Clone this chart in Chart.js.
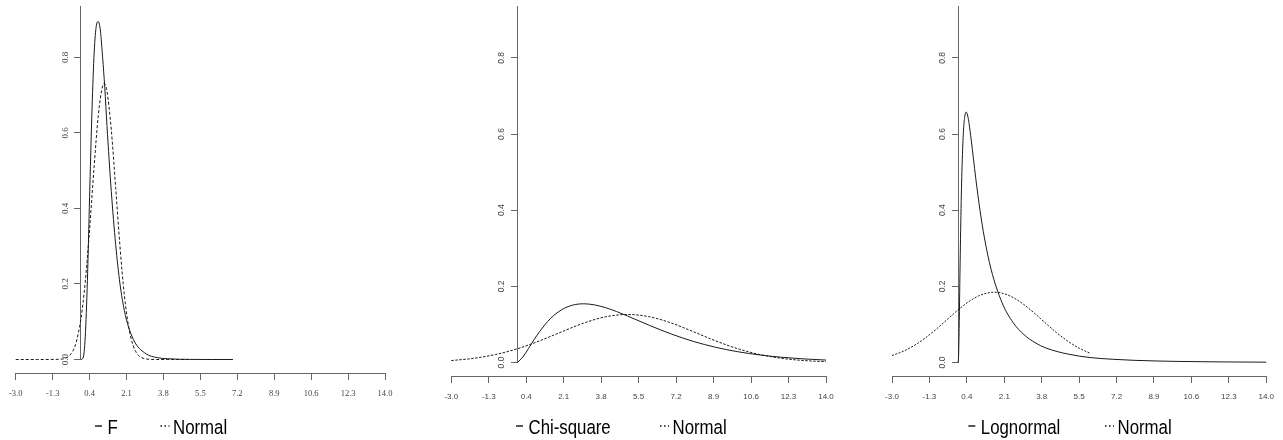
<!DOCTYPE html>
<html><head><meta charset="utf-8">
<script src="https://cdn.jsdelivr.net/npm/chart.js@4/dist/chart.umd.min.js"></script>
<style>
html,body{margin:0;padding:0;background:#fff;overflow:hidden}
#wrap{position:relative;width:1283px;height:440px;background:#fff}
.p{position:absolute;top:0;height:440px}
</style></head><body>
<div id="wrap">
<div class="p" style="left:0;width:427px"><canvas id="c1" width="427" height="440"></canvas></div>
<div class="p" style="left:427px;width:427px"><canvas id="c2" width="427" height="440"></canvas></div>
<div class="p" style="left:854px;width:429px"><canvas id="c3" width="429" height="440"></canvas></div>
</div>
<script>
// ---- tick labels ----
const xTicks = [-3.0, -1.3, 0.4, 2.1, 3.8, 5.5, 7.2, 8.9, 10.6, 12.3, 14.0];
const xTickLabels = ['-3.0', '-1.3', '0.4', '2.1', '3.8', '5.5', '7.2', '8.9', '10.6', '12.3', '14.0'];
const yTicks = [0.0, 0.2, 0.4, 0.6, 0.8];
const yTickLabels = ['0.0', '0.2', '0.4', '0.6', '0.8'];

// ---- panel 1: F vs Normal ----
const fX = [0, 0.1, 0.2, 0.3, 0.4, 0.5, 0.6, 0.7, 0.8, 0.9, 1.0, 1.1, 1.2, 1.4, 1.6, 1.8, 2.0, 2.2, 2.5, 3.0, 3.5, 4.0, 5.0, 6.0, 7.0];
const fY = [0, 0.004, 0.06, 0.21, 0.43, 0.64, 0.80, 0.88, 0.895, 0.87, 0.80, 0.72, 0.62, 0.445, 0.305, 0.20, 0.13, 0.085, 0.044, 0.015, 0.005, 0.002, 0.0003, 0, 0];
const n1X = [-3, -2, -1, -0.5, -0.25, 0, 0.1, 0.2, 0.4, 0.6, 0.8, 1.0, 1.07, 1.2, 1.4, 1.6, 1.8, 2.0, 2.2, 2.4, 2.6, 2.8, 3.0, 3.5, 4.0, 5.1];
const n1Y = [0, 0, 0.0006, 0.012, 0.039, 0.107, 0.151, 0.205, 0.344, 0.504, 0.646, 0.725, 0.731, 0.710, 0.608, 0.456, 0.299, 0.171, 0.086, 0.038, 0.014, 0.005, 0.0014, 0, 0, 0];

// ---- panel 2: Chi-square vs Normal ----
const cX = [0, 0.25, 0.5, 0.75, 1, 1.5, 2, 2.5, 3, 3.5, 4, 4.5, 5, 6, 7, 8, 9, 10, 11, 12, 13, 14];
const cY = [0, 0.0147, 0.0366, 0.0594, 0.0807, 0.1154, 0.1384, 0.1506, 0.1542, 0.1513, 0.1440, 0.1338, 0.1220, 0.0973, 0.0744, 0.0551, 0.0399, 0.0283, 0.0198, 0.0137, 0.0094, 0.0064];
const n2X = [-3, -2, -1, 0, 1, 2, 3, 4, 5, 6, 7, 8, 9, 10, 11, 12, 13, 14];
const n2Y = [0.0051, 0.0109, 0.0209, 0.0361, 0.0567, 0.0804, 0.1033, 0.1200, 0.1262, 0.1200, 0.1033, 0.0804, 0.0567, 0.0361, 0.0209, 0.0109, 0.0051, 0.0022];

// ---- panel 3: Lognormal vs Normal ----
const lX = [0, 0.025, 0.05, 0.1, 0.15, 0.2, 0.25, 0.3, 0.37, 0.45, 0.5, 0.6, 0.7, 0.8, 1, 1.2, 1.5, 2, 2.5, 3, 3.5, 4, 5, 6, 7, 8, 9, 10, 12, 14];
const lY = [0, 0.018, 0.089, 0.282, 0.440, 0.546, 0.611, 0.644, 0.658, 0.645, 0.628, 0.584, 0.535, 0.486, 0.399, 0.327, 0.245, 0.157, 0.105, 0.073, 0.052, 0.038, 0.022, 0.013, 0.0086, 0.0057, 0.004, 0.0028, 0.0015, 0.0009];
const n3X = [-3, -2.5, -2, -1.5, -1, -0.5, 0, 0.5, 1, 1.65, 2, 2.5, 3, 3.5, 4, 4.5, 5, 5.5, 6];
const n3Y = [0.0183, 0.0292, 0.0444, 0.0639, 0.0871, 0.1126, 0.1380, 0.1603, 0.1765, 0.1846, 0.1822, 0.1708, 0.1518, 0.1279, 0.1022, 0.0773, 0.0555, 0.0377, 0.0243];

const series1 = ['F', 'Normal'];
const series2 = ['Chi-square', 'Normal'];
const series3 = ['Lognormal', 'Normal'];

const pts = (xs, ys) => xs.map((x, i) => ({x: x, y: ys[i]}));

const decor = {
  id: 'decor',
  afterDraw(chart, args, o) {
    const ctx = chart.ctx, xs = chart.scales.x, ys = chart.scales.y;
    const x0 = xs.getPixelForValue(0);
    ctx.save();
    ctx.fillStyle = '#444';
    ctx.font = o.yFont;
    ctx.textAlign = 'center';
    ctx.textBaseline = 'middle';
    yTicks.forEach((v, i) => {
      const y = ys.getPixelForValue(v);
      ctx.save();
      ctx.translate(x0 - o.yLabelOffset, y);
      ctx.rotate(-Math.PI / 2);
      ctx.fillText(yTickLabels[i], 0, 0);
      ctx.restore();
    });
    chart.data.datasets.forEach((ds, i) => {
      const sx = o.legendX[i];
      ctx.beginPath();
      ctx.strokeStyle = '#111';
      ctx.lineWidth = 1.4;
      ctx.setLineDash(i === 0 ? [] : [1.5, 2.5]);
      ctx.moveTo(sx, o.sampleY);
      ctx.lineTo(sx + (i === 0 ? 7 : 9), o.sampleY);
      ctx.stroke();
      ctx.setLineDash([]);
      ctx.fillStyle = '#000';
      ctx.font = o.legendFont;
      ctx.textAlign = 'left';
      ctx.textBaseline = 'alphabetic';
      ctx.save();
      ctx.translate(sx + 12.5, o.baseline);
      ctx.scale(0.82, 1);
      ctx.fillText(ds.label, 0, 0);
      ctx.restore();
    });
    ctx.restore();
  }
};

function makeChart(id, names, sX, sY, nX, nY, p) {
  new Chart(document.getElementById(id), {
    type: 'line',
    data: {
      datasets: [
        {label: names[0], data: pts(sX, sY), borderColor: '#1a1a1a', borderWidth: 1, pointRadius: 0, fill: false, clip: false, cubicInterpolationMode: 'monotone'},
        {label: names[1], data: pts(nX, nY), borderColor: '#1a1a1a', borderWidth: 1, borderDash: p.dash, pointRadius: 0, fill: false, clip: false, cubicInterpolationMode: 'monotone'}
      ]
    },
    options: {
      responsive: false,
      animation: false,
      events: [],
      devicePixelRatio: 1,
      layout: {padding: {left: p.left, right: p.right, top: 6.5, bottom: p.bottom}},
      plugins: {legend: {display: false}, tooltip: {enabled: false}, title: {display: false},
        decor: {yFont: p.yFont, yLabelOffset: 15.5, legendX: p.legendX, sampleY: 426, baseline: 434, legendFont: '20.5px "Liberation Sans", Arial, sans-serif'}},
      scales: {
        x: {
          type: 'linear', min: -3, max: 14, position: {y: p.xAxisAt},
          afterBuildTicks: s => { s.ticks = xTicks.map(v => ({value: v})); },
          ticks: {autoSkip: false, maxRotation: 0, minRotation: 0, padding: p.xPad, color: '#444', font: p.xFont,
            callback: (v, i) => xTickLabels[i]},
          grid: {drawOnChartArea: false, drawTicks: true, tickLength: 6, color: '#666', lineWidth: 1},
          border: {display: true, color: '#666', width: 1}
        },
        y: {
          type: 'linear', min: 0, max: 0.935, position: {x: 0},
          afterBuildTicks: s => { s.ticks = yTicks.map(v => ({value: v})); },
          ticks: {display: false},
          grid: {drawOnChartArea: false, drawTicks: true, tickLength: 6, color: '#666', lineWidth: 1},
          border: {display: true, color: '#666', width: 1}
        }
      }
    },
    plugins: [decor]
  });
}

makeChart('c1', series1, fX, fY, n1X, n1Y, {
  left: 14, right: 42, bottom: 80.5, xAxisAt: -0.037, xPad: 9,
  xFont: {family: '"Liberation Serif", "Times New Roman", serif', size: 8.5},
  yFont: '9px "Liberation Serif", "Times New Roman", serif',
  dash: [3, 2], legendX: [95, 160.5]
});
makeChart('c2', series2, cX, cY, n2X, n2Y, {
  left: 24.3, right: 28, bottom: 77.5, xAxisAt: -0.037, xPad: 9,
  xFont: {family: '"Liberation Sans", Arial, sans-serif', size: 8},
  yFont: '8.5px "Liberation Sans", Arial, sans-serif',
  dash: [2.5, 1.5], legendX: [89, 233]
});
makeChart('c3', series3, lX, lY, n3X, n3Y, {
  left: 38, right: 16.3, bottom: 77.5, xAxisAt: -0.037, xPad: 9,
  xFont: {family: '"Liberation Sans", Arial, sans-serif', size: 8},
  yFont: '8.5px "Liberation Sans", Arial, sans-serif',
  dash: [2, 1.5], legendX: [114.3, 251]
});
</script>
</body></html>
